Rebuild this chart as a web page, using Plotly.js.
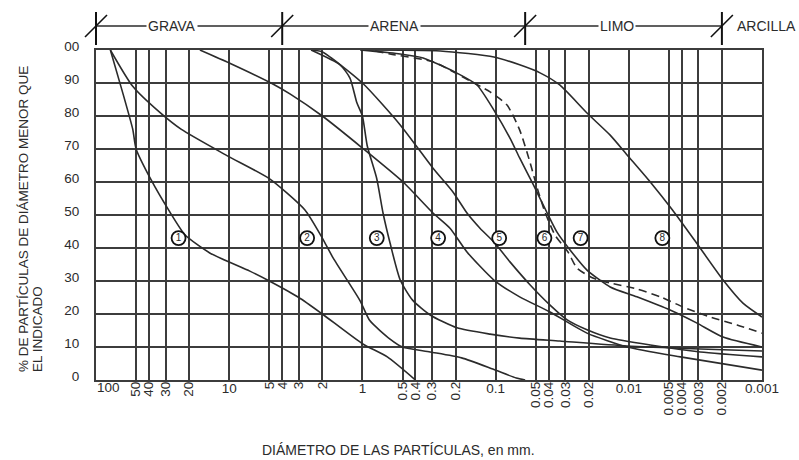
<!DOCTYPE html>
<html><head><meta charset="utf-8">
<script src="https://cdn.plot.ly/plotly-3.0.1.min.js"></script>
<style>html,body{margin:0;padding:0;background:#fff}#chart{width:799px;height:460px}</style>
</head><body><div id="chart"></div>
<script>
// ---- Data (diameter in mm, % passing) ----
const curve1_d = [78, 64, 53, 50, 39, 28, 21.5, 14, 7, 5, 3, 2, 1, 0.65, 0.4];
const curve1_p = [100, 88, 76, 70, 61, 51, 44, 38.5, 33, 30, 25, 20, 11, 7, 0];

const curve2_d = [78, 53, 33, 23, 10.4, 5, 2.7, 2, 1.66, 1.04, 0.88, 0.62, 0.5, 0.31, 0.18, 0.105, 0.07, 0.06];
const curve2_p = [100, 89, 81, 76, 68, 61, 51.5, 43, 37, 24, 18, 12.4, 10, 8.5, 6.7, 3.3, 0.6, 0];

const curve3_d = [2.43, 1.47, 1.24, 1.1, 1.0, 0.92, 0.78, 0.70, 0.62, 0.52, 0.42, 0.31, 0.195, 0.11, 0.066, 0.033, 0.0103, 0.0029, 0.001];
const curve3_p = [100, 95.5, 91.5, 84, 80, 71, 61, 50.6, 41.5, 30.3, 24.2, 19.7, 15.8, 13.9, 12.7, 11.8, 10.3, 9.4, 8.8];

const curve4_d = [16.6, 9.9, 4.7, 3.5, 2.0, 1.0, 0.495, 0.295, 0.22, 0.164, 0.103, 0.066, 0.039, 0.0206, 0.0103, 0.0041, 0.001];
const curve4_p = [100, 96, 89.7, 86.7, 80, 70.3, 60, 50.6, 46, 38.8, 30.3, 25.2, 20.6, 14.2, 10, 7, 3];

const curve5_d = [2.43, 2.0, 1.0, 0.52, 0.295, 0.209, 0.164, 0.131, 0.103, 0.078, 0.055, 0.039, 0.029, 0.0206, 0.0138, 0.0069, 0.0029, 0.001];
const curve5_p = [100, 99.4, 90, 77.3, 64.2, 57, 50.6, 46, 41.8, 35.8, 28.8, 22.7, 18.2, 15.2, 12.7, 10.6, 8.5, 7];

const curve6_d = [1.04, 0.52, 0.35, 0.195, 0.138, 0.103, 0.078, 0.066, 0.052, 0.041, 0.0346, 0.0276, 0.0206, 0.0138, 0.0087, 0.0049, 0.0031, 0.00196, 0.001];
const curve6_p = [100, 98.8, 97.6, 93, 89.4, 81.8, 73.3, 67.3, 59.1, 50.6, 44.8, 39.4, 33.3, 28.2, 25.2, 21.2, 17.3, 13, 10];

const curve7_d = [0.80, 0.62, 0.295, 0.176, 0.110, 0.082, 0.066, 0.055, 0.049, 0.0426, 0.0358, 0.0286, 0.0245, 0.0186, 0.0138, 0.0087, 0.0058, 0.0039, 0.00245, 0.00154, 0.001];
const curve7_p = [99.7, 98.8, 96.4, 91.8, 87.3, 83.3, 75.8, 65.8, 58.5, 50.9, 43.9, 38.8, 33.9, 30.9, 29.4, 27.6, 25.2, 22.1, 19.1, 16.7, 14.2];

const curve8_d = [1.0, 0.26, 0.103, 0.066, 0.046, 0.033, 0.0206, 0.0138, 0.0103, 0.0069, 0.0047, 0.0031, 0.00196, 0.00139, 0.001];
const curve8_p = [100, 99.7, 97.9, 95.5, 93, 89.4, 80.9, 74.2, 68.2, 60, 51.5, 41.5, 30.3, 23.3, 19.1];

const circleLabels = ['1', '2', '3', '4', '5', '6', '7', '8'];
const circle_d = [24, 2.6, 0.78, 0.27, 0.094, 0.043, 0.023, 0.0056];
const circle_p = [43, 43, 43, 43, 43, 43, 43, 43];

// tick labels: the first one (100) is drawn left-aligned at the axis start
const edgeTickVal = 100;
const edgeTickText = '100';
const mainTickVals = [10, 1, 0.1, 0.01, 0.001];
const mainTickText = ['10', '1', '0.1', '0.01', '0.001'];
const minorTickVals = [50, 40, 30, 20, 5, 4, 3, 2, 0.5, 0.4, 0.3, 0.2, 0.05, 0.04, 0.03, 0.02, 0.005, 0.004, 0.003, 0.002];
const minorTickText = ['50', '40', '30', '20', '5', '4', '3', '2', '0.5', '0.4', '0.3', '0.2', '0.05', '0.04', '0.03', '0.02', '0.005', '0.004', '0.003', '0.002'];
const yTickVals = [0, 10, 20, 30, 40, 50, 60, 70, 80, 90, 100];
const yTickText = ['0', '10', '20', '30', '40', '50', '60', '70', '80', '90', '00'];

const zoneNames = ['GRAVA', 'ARENA', 'LIMO', 'ARCILLA'];
const zoneLabelAt = [27, 0.57, 0.0123, 0.002];
const zoneBounds = [100, 4, 0.06, 0.002];

const yTitle1 = '% DE PARTÍCULAS DE DIÁMETRO MENOR QUE';
const yTitle2 = 'EL INDICADO';
const xTitle = 'DIÁMETRO DE LAS PARTÍCULAS, en mm.';

// ---- Styles ----
const FONT = 'Liberation Sans, Arial, sans-serif';
const INK = '#2b2b2b';
const GRID = '#3c3c3c';
const X_RANGE = [2, -3];           // log10(100) .. log10(0.001), reversed
const pxOf = v => (X_RANGE[0] - Math.log10(v)) / (X_RANGE[0] - X_RANGE[1]);

const curves = [
  [curve1_d, curve1_p, 'solid'], [curve2_d, curve2_p, 'solid'], [curve3_d, curve3_p, 'solid'],
  [curve4_d, curve4_p, 'solid'], [curve5_d, curve5_p, 'solid'], [curve6_d, curve6_p, 'solid'],
  [curve7_d, curve7_p, '8px,5px'], [curve8_d, curve8_p, 'solid']
];
const traces = curves.map(([d, p, dash]) => ({
  type: 'scatter', mode: 'lines', x: d, y: p, xaxis: 'x', yaxis: 'y',
  line: {color: INK, width: 1.6, dash: dash, shape: 'spline', smoothing: 0.6},
  hoverinfo: 'skip'
}));
traces.push({
  type: 'scatter', mode: 'markers+text', x: circle_d, y: circle_p, xaxis: 'x2', yaxis: 'y',
  text: circleLabels, textposition: 'middle center',
  textfont: {family: FONT, size: 10, color: INK},
  marker: {symbol: 'circle', size: 14, color: '#fff', line: {color: '#111', width: 1.8}},
  hoverinfo: 'skip', cliponaxis: false
});

// header (soil classes) above the plot
const yHead = (380 - 26) / 330;
const shapes = [{
  type: 'line', xref: 'paper', yref: 'paper',
  x0: pxOf(zoneBounds[0]), x1: pxOf(zoneBounds[3]), y0: yHead, y1: yHead,
  line: {color: INK, width: 1.3}
}];
zoneBounds.forEach(b => {
  shapes.push({type: 'line', xref: 'paper', yref: 'paper', x0: pxOf(b), x1: pxOf(b),
    y0: (380 - 45) / 330, y1: (380 - 12) / 330, line: {color: '#111', width: 2}});
  shapes.push({type: 'line', xref: 'paper', yref: 'paper', xsizemode: 'pixel', xanchor: pxOf(b),
    x0: -11, x1: 11, y0: (380 - 37) / 330, y1: (380 - 15) / 330, line: {color: '#111', width: 1.6}});
});

const annotations = [];
zoneNames.forEach((n, i) => {
  const last = i === zoneNames.length - 1;
  annotations.push({
    text: n, xref: 'x', yref: 'paper', x: Math.log10(zoneLabelAt[i]), y: yHead,
    xanchor: last ? 'left' : 'center', yanchor: 'middle', xshift: last ? 13 : 0,
    showarrow: false, bgcolor: '#fff', borderpad: 1,
    font: {family: FONT, size: 14, color: INK}
  });
});
annotations.push({text: edgeTickText, xref: 'x', yref: 'paper', x: Math.log10(edgeTickVal), y: (380 - 387) / 330,
  xanchor: 'left', yanchor: 'middle', showarrow: false, borderpad: 0,
  font: {family: FONT, size: 13.5, color: INK}});
annotations.push({text: yTitle1, xref: 'paper', yref: 'paper', x: (23 - 96) / 666, y: (380 - 374) / 330,
  xanchor: 'center', yanchor: 'bottom', textangle: -90, showarrow: false,
  font: {family: FONT, size: 13.5, color: INK}});
annotations.push({text: yTitle2, xref: 'paper', yref: 'paper', x: (37 - 96) / 666, y: (380 - 374) / 330,
  xanchor: 'center', yanchor: 'bottom', textangle: -90, showarrow: false,
  font: {family: FONT, size: 13.5, color: INK}});
annotations.push({text: xTitle, xref: 'paper', yref: 'paper', x: (398 - 96) / 666, y: (380 - 450) / 330,
  xanchor: 'center', yanchor: 'middle', showarrow: false,
  font: {family: FONT, size: 14, color: INK}});

const layout = {
  width: 799, height: 460,
  margin: {l: 96, r: 37, t: 50, b: 80, pad: 0},
  paper_bgcolor: '#fff', plot_bgcolor: '#fff',
  showlegend: false,
  font: {family: FONT, size: 13.5, color: INK},
  xaxis: {
    type: 'log', range: X_RANGE, autorange: false, tickmode: 'array',
    tickvals: mainTickVals.concat(minorTickVals),
    ticktext: mainTickText.concat(minorTickText.map(() => '')),
    showgrid: true, gridcolor: GRID, gridwidth: 2,
    showline: true, mirror: true, linecolor: GRID, linewidth: 2,
    ticks: '', zeroline: false, ticklabelstandoff: -5,
    tickfont: {family: FONT, size: 13.5, color: INK}
  },
  xaxis2: {
    type: 'log', range: X_RANGE, autorange: false, overlaying: 'x', anchor: 'y', side: 'bottom',
    tickmode: 'array', tickvals: minorTickVals, ticktext: minorTickText, tickangle: -90,
    showgrid: false, showline: false, ticks: '', zeroline: false, ticklabelstandoff: -2,
    tickfont: {family: FONT, size: 13.5, color: INK}
  },
  yaxis: {
    range: [0, 100], autorange: false, tickmode: 'array', tickvals: yTickVals, ticktext: yTickText,
    showgrid: true, gridcolor: GRID, gridwidth: 2,
    showline: true, mirror: true, linecolor: GRID, linewidth: 2,
    ticks: '', zeroline: false, ticklabelstandoff: 12, ticklabelshift: -4,
    tickfont: {family: FONT, size: 13.5, color: INK}
  },
  shapes: shapes,
  annotations: annotations
};

Plotly.newPlot('chart', traces, layout, {staticPlot: true, displayModeBar: false});
</script>
</body></html>
